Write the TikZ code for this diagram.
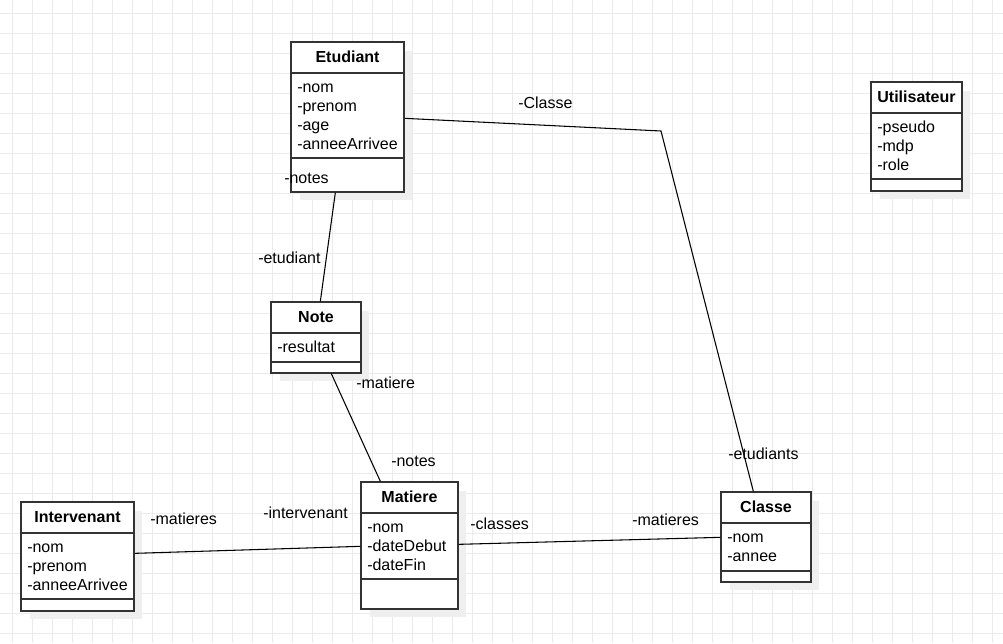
\documentclass[tikz,border=0pt]{standalone}
\usepackage{fontspec}
\setmainfont{Liberation Sans}
\usetikzlibrary{calc}
\definecolor{gridc}{HTML}{EBEBEB}
\definecolor{shadc}{HTML}{EFEFEF}
\definecolor{boxc}{HTML}{333333}
\tikzset{
  classbox/.style={draw=boxc, line width=1pt, fill=white, rectangle, inner sep=0pt},
  shadowbox/.style={fill=shadc, draw=none},
  sepline/.style={draw=boxc, line width=1pt},
  attr/.style={anchor=base west, inner sep=0pt, font=\fontsize{12}{14.25}\selectfont},
  ctitle/.style={anchor=base, inner sep=0pt, font=\fontsize{12}{14.25}\selectfont\bfseries},
  rolelabel/.style={anchor=base west, inner sep=0pt, font=\fontsize{12}{14.25}\selectfont},
  assoc/.style={draw=black, line width=0.8pt}
}
% \umlclassbox{name}{x1}{y1}{x2}{y2}{header y}{sep y}{title}
\newcommand{\umlclassbox}[8]{%
  \fill[shadowbox] (#2+9,#3+9) rectangle (#4+8,#5+8);
  \node[classbox, minimum width={(#4-#2)*0.75pt}, minimum height={(#5-#3)*0.75pt}] (#1) at ({(#2+#4)/2},{(#3+#5)/2}) {};
  \draw[sepline] (#2,#6) -- (#4,#6);
  \draw[sepline] (#2,#7) -- (#4,#7);
  \node[ctitle] (#1T) at ({(#2+#4)/2},#3+20.5) {#8};
}
\begin{document}
\begin{tikzpicture}[x=0.75pt,y=-0.75pt]
\useasboundingbox (0,0) rectangle (1003,643);
\fill[white] (0,0) rectangle (1003,643);
\foreach \x in {12,32,...,1002} \draw[gridc, line width=0.75pt] (\x,0) -- (\x,643);
\foreach \y in {13,33,...,643} \draw[gridc, line width=0.75pt] (0,\y) -- (1003,\y);

% classes
\umlclassbox{etud}{291}{42}{404}{192}{73}{158}{Etudiant}
\node[attr] (etud1) at (297,92) {-nom};
\node[attr] (etud2) at (297,111) {-prenom};
\node[attr] (etud3) at (297,130) {-age};
\node[attr] (etud4) at (297,149) {-anneeArrivee};
\node[attr] (etudM) at (284,183) {-notes};

\umlclassbox{util}{871}{82}{962}{191}{113}{179}{Utilisateur}
\node[attr] (util1) at (877,132) {-pseudo};
\node[attr] (util2) at (877,151) {-mdp};
\node[attr] (util3) at (877,170) {-role};

\umlclassbox{note}{271}{302}{361}{373}{333}{362}{Note}
\node[attr] (note1) at (277,352) {-resultat};

\umlclassbox{inter}{21}{502}{134}{611}{533}{599}{Intervenant}
\node[attr] (inter1) at (27,552) {-nom};
\node[attr] (inter2) at (27,571) {-prenom};
\node[attr] (inter3) at (27,590) {-anneeArrivee};

\umlclassbox{mat}{361}{482}{458}{609}{513}{579}{Matiere}
\node[attr] (mat1) at (367,532) {-nom};
\node[attr] (mat2) at (367,551) {-dateDebut};
\node[attr] (mat3) at (367,570) {-dateFin};

\umlclassbox{cls}{721}{492}{811}{582}{523}{571}{Classe}
\node[attr] (cls1) at (727,542) {-nom};
\node[attr] (cls2) at (727,561) {-annee};

% connectors
\coordinate (bend) at (661,131);
\draw[assoc] ($(etud.south west)+(45,0)$) -- ($(note.north west)+(50,0)$);
\draw[assoc] ($(note.south west)+(61,0)$) -- ($(mat.north west)+(20,0)$);
\draw[assoc] ($(etud.north east)+(0,77)$) -- (bend) -- ($(cls.north west)+(33,0)$);
\draw[assoc] ($(inter.north east)+(0,52)$) -- ($(mat.north west)+(0,65)$);
\draw[assoc] ($(mat.north east)+(0,63)$) -- ($(cls.north west)+(0,46)$);

% role labels
\node[rolelabel] (lClasse) at (518,108) {-Classe};
\node[rolelabel] (lEtudiant) at (258,263) {-etudiant};
\node[rolelabel] (lMatiere) at (356,388) {-matiere};
\node[rolelabel] (lNotes) at (391,466) {-notes};
\node[rolelabel] (lEtudiants) at (728,459) {-etudiants};
\node[rolelabel] (lMatieresI) at (150,524) {-matieres};
\node[rolelabel] (lInter) at (263,518) {-intervenant};
\node[rolelabel] (lClasses) at (470,529) {-classes};
\node[rolelabel] (lMatieresC) at (632,525) {-matieres};
\end{tikzpicture}
\end{document}
